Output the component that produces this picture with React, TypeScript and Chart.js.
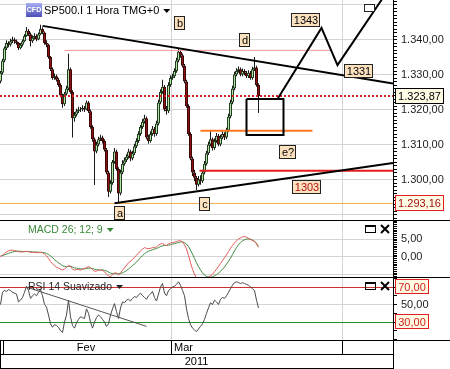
import React, { useEffect, useRef } from 'react';
import { Chart, registerables } from 'chart.js';

Chart.register(...registerables);

const FONT = '"Liberation Sans", Arial, Helvetica, sans-serif';
const GRID = '#d4d4d4';

const title = 'SP500.I 1 Hora TMG+0';
const macdTitle = 'MACD 26; 12; 9';
const rsiTitle = 'RSI 14 Suavizado';

// hourly candles, bar index 0..129
const opens = [
  1328, 1330.5, 1334, 1337.5, 1339, 1338.5, 1339.5, 1340, 1339.5, 1339,
  1337.5, 1338.5, 1339.5, 1341, 1342.5, 1341.5, 1339.5, 1340.5, 1341, 1340,
  1341.5, 1343, 1342, 1339, 1338.5, 1335, 1331.5, 1329, 1329.5, 1328.5,
  1327, 1324, 1321.5, 1324.5, 1326, 1331.5, 1325, 1317.5, 1318.5, 1319.5,
  1320, 1320, 1320.5, 1320, 1322, 1319.5, 1315, 1311.5, 1308, 1310,
  1311.5, 1312, 1311, 1308.5, 1302, 1296.5, 1299, 1305, 1308, 1303,
  1296, 1302, 1304.5, 1305.5, 1306.5, 1308, 1306, 1307.5, 1309.5, 1311,
  1313, 1315, 1316.5, 1317.5, 1312, 1311, 1313, 1314.5, 1313, 1316,
  1322, 1325, 1326.5, 1320, 1319.5, 1327, 1329, 1329.5, 1331, 1334,
  1336.5, 1335.5, 1332.5, 1328, 1321, 1313, 1306, 1302, 1300.5, 1298.5,
  1300, 1299.5, 1302, 1304.5, 1307.5, 1310, 1311.5, 1309, 1311, 1312.5,
  1310, 1312, 1313, 1312, 1314, 1318, 1322, 1326, 1330, 1331,
  1331.5, 1330, 1331, 1330.5, 1329.5, 1330.5, 1329, 1331.5, 1332, 1327,
];
const highs = [
  1331, 1334.5, 1338, 1339.8, 1339.5, 1340.2, 1340.8, 1340.5, 1340, 1339.3,
  1339, 1340, 1341.5, 1343.6, 1343, 1342, 1341.2, 1341.8, 1341.5, 1342,
  1344.2, 1343.5, 1342.3, 1339.8, 1338.8, 1335.3, 1332, 1330.3, 1330, 1329,
  1327.5, 1324.5, 1325, 1326.8, 1335.9, 1332, 1325.5, 1319.3, 1320.2, 1320.8,
  1320.7, 1321.2, 1321, 1322.6, 1322.4, 1320, 1315.5, 1312, 1310.8, 1312.2,
  1312.8, 1312.5, 1311.5, 1309, 1302.5, 1299.8, 1305.6, 1309, 1308.5, 1303.5,
  1302.8, 1305.5, 1306.3, 1307.2, 1308.8, 1308.5, 1308.2, 1310.2, 1311.8, 1313.8,
  1315.6, 1317.3, 1318.5, 1318, 1312.8, 1313.8, 1315.3, 1315, 1316.8, 1322.8,
  1325.8, 1328.5, 1327, 1321, 1327.8, 1329.8, 1330.2, 1331.8, 1334.8, 1337.5,
  1337, 1336, 1333, 1328.5, 1321.5, 1313.5, 1306.5, 1302.8, 1301, 1301,
  1301.2, 1302.8, 1305.3, 1308.2, 1310.8, 1314, 1312, 1311.8, 1313.3, 1313,
  1312.8, 1313.8, 1313.5, 1314.8, 1318.8, 1322.8, 1326.8, 1330.8, 1331.8, 1332.3,
  1332, 1331.7, 1331.5, 1331, 1331.2, 1331, 1332.2, 1335, 1332.5, 1327.5,
];
const lows = [
  1327.5, 1330, 1333.5, 1337, 1337.8, 1338, 1339, 1338.8, 1338.5, 1337,
  1337.2, 1338, 1339.2, 1340.8, 1341, 1338, 1339, 1340, 1339.5, 1339.8,
  1341.2, 1341.5, 1338.5, 1337.8, 1334.5, 1331, 1328.5, 1328.5, 1328, 1326.5,
  1323.5, 1320.5, 1321, 1324, 1325.5, 1324.5, 1312, 1316.5, 1318, 1319,
  1319.3, 1319.5, 1319.3, 1319.8, 1319, 1314.5, 1310.8, 1298.4, 1307.5, 1309.5,
  1311, 1310.3, 1308, 1301.5, 1295, 1296, 1298.5, 1304.5, 1302.5, 1293.5,
  1295.5, 1301.5, 1304, 1305, 1306, 1305.2, 1305.5, 1307, 1309, 1310.5,
  1312.5, 1314.5, 1316, 1311.5, 1310.2, 1310.5, 1312.5, 1312.2, 1312.5, 1315.5,
  1321.5, 1324.5, 1319.5, 1318.5, 1319, 1326.5, 1328.5, 1329, 1330.5, 1333.5,
  1334.8, 1332, 1327.5, 1320.5, 1312.5, 1305.5, 1301, 1299.5, 1297, 1298,
  1298.5, 1299, 1301.5, 1304, 1307, 1309.5, 1308.3, 1308.5, 1310.5, 1309.5,
  1309.5, 1311.5, 1311.3, 1311.5, 1313.5, 1317.5, 1321.5, 1325.5, 1329.5, 1330.5,
  1329.5, 1329.5, 1329.8, 1329, 1329, 1328.5, 1328.5, 1331, 1326.5, 1319,
];
const closes = [
  1330.5, 1334, 1337.5, 1339, 1338.5, 1339.5, 1340, 1339.5, 1339, 1337.5,
  1338.5, 1339.5, 1341, 1342.5, 1341.5, 1339.5, 1340.5, 1341, 1340, 1341.5,
  1343, 1342, 1339, 1338.5, 1335, 1331.5, 1329, 1329.5, 1328.5, 1327,
  1324, 1321.5, 1324.5, 1326, 1331.5, 1325, 1317.5, 1318.5, 1319.5, 1320,
  1320, 1320.5, 1320, 1322, 1319.5, 1315, 1311.5, 1308, 1310, 1311.5,
  1312, 1311, 1308.5, 1302, 1296.5, 1299, 1305, 1308, 1303, 1296,
  1302, 1304.5, 1305.5, 1306.5, 1308, 1306, 1307.5, 1309.5, 1311, 1313,
  1315, 1316.5, 1317.5, 1312, 1311, 1313, 1314.5, 1313, 1316, 1322,
  1325, 1326.5, 1320, 1319.5, 1327, 1329, 1329.5, 1331, 1334, 1336.5,
  1335.5, 1332.5, 1328, 1321, 1313, 1306, 1302, 1300.5, 1298.5, 1300,
  1299.5, 1302, 1304.5, 1307.5, 1310, 1311.5, 1309, 1311, 1312.5, 1310,
  1312, 1313, 1312, 1314, 1318, 1322, 1326, 1330, 1331, 1331.5,
  1330, 1331, 1330.5, 1329.5, 1330.5, 1329, 1331.5, 1332, 1327, 1323.87,
];

const macdLine = [
  0.1, 0.5, 1.0, 1.4, 1.7, 1.9, 1.9, 1.8, 1.7, 1.5,
  1.4, 1.4, 1.5, 1.6, 1.5, 1.3, 1.3, 1.3, 1.2, 1.2,
  1.3, 1.2, 0.8, 0.3, -0.4, -1.2, -1.9, -2.4, -2.8, -3.1,
  -3.4, -3.6, -3.3, -2.9, -2.3, -2.6, -3.4, -3.6, -3.5, -3.5,
  -3.6, -3.4, -3.2, -2.9, -2.7, -3.0, -3.5, -4.0, -3.9, -3.7,
  -3.6, -3.7, -4.1, -4.7, -5.3, -5.4, -5.0, -4.4, -4.5, -5.0,
  -4.4, -3.7, -3.0, -2.3, -1.6, -1.2, -0.7, -0.1, 0.5, 1.1,
  1.7, 2.2, 2.6, 2.4, 2.3, 2.4, 2.6, 2.6, 2.8, 3.3,
  3.6, 3.8, 3.4, 3.2, 3.6, 3.9, 4.0, 4.1, 4.3, 4.5,
  4.5, 4.2, 3.4, 2.2, 0.4, -1.6, -3.4, -4.8, -5.9, -6.6,
  -7.2, -7.1, -6.7, -6.1, -5.6, -5.2, -4.8, -4.1, -3.4, -2.6,
  -1.8, -1.0, -0.2, 0.6, 1.5, 2.4, 3.2, 3.9, 4.5, 5.0,
  5.3, 5.6, 5.7, 5.5, 5.2, 4.9, 4.6, 4.3, 3.6, 2.7,
];
const signalLine = [
  0.3, 0.4, 0.6, 0.8, 1.0, 1.2, 1.4, 1.5, 1.6, 1.6,
  1.6, 1.5, 1.5, 1.5, 1.5, 1.5, 1.4, 1.4, 1.4, 1.3,
  1.3, 1.3, 1.2, 1.0, 0.7, 0.3, -0.2, -0.7, -1.2, -1.6,
  -2.0, -2.4, -2.6, -2.7, -2.6, -2.6, -2.8, -3.0, -3.1, -3.2,
  -3.3, -3.3, -3.3, -3.2, -3.1, -3.1, -3.2, -3.4, -3.5, -3.6,
  -3.6, -3.6, -3.7, -3.9, -4.2, -4.5, -4.6, -4.6, -4.6, -4.7,
  -4.6, -4.4, -4.1, -3.8, -3.3, -2.9, -2.4, -1.9, -1.4, -0.8,
  -0.2, 0.4, 0.9, 1.3, 1.6, 1.8, 2.0, 2.2, 2.4, 2.6,
  2.9, 3.1, 3.2, 3.2, 3.3, 3.4, 3.6, 3.7, 3.9, 4.0,
  4.2, 4.2, 4.0, 3.6, 2.9, 1.9, 0.8, -0.4, -1.6, -2.7,
  -3.6, -4.4, -5.0, -5.4, -5.6, -5.6, -5.5, -5.2, -4.9, -4.5,
  -4.0, -3.4, -2.8, -2.0, -1.2, -0.3, 0.7, 1.7, 2.6, 3.4,
  4.0, 4.5, 4.8, 5.0, 5.0, 4.9, 4.7, 4.4, 3.8, 2.9,
];
const rsiLine = [
  50, 64, 66, 65, 67, 66, 64, 63, 62, 53,
  55, 58, 64, 71, 66, 57, 60, 62, 60, 64,
  67, 60, 50, 47, 38, 28, 24, 27, 26, 24,
  20, 18, 30, 38, 55, 36, 26, 23, 29, 33,
  36, 35, 34, 45, 40, 30, 23, 30, 35, 38,
  36, 33, 30, 25, 28, 38, 45, 51, 42, 34,
  46, 53, 52, 55, 56, 54, 57, 59, 58, 61,
  63, 60, 58, 56, 60, 62, 65, 58, 54, 62,
  70, 74, 63, 60, 66, 68, 70, 71, 73, 76,
  72, 66, 60, 45, 34, 27, 23, 21, 19, 22,
  25, 28, 33, 40, 46, 52, 50, 55, 53, 50,
  56, 58, 57, 60, 64, 68, 72, 75, 76, 75,
  74, 75, 74, 73, 72, 70, 68, 66, 55, 46,
];

const lastPrice = 1323.87;
const markPrice = 1293.16;
const rsiUpper = 70;
const rsiMid = 50;
const rsiLower = 30;

const xRange = [-0.25, 196.25];
const priceRange = [1288.43, 1351.29];
const macdRange = [-5.56, 10.28];
const rsiRange = [9.43, 81.43];

const monthTicks = [1.25, 85.25, 170.75];
const monthNames = ['Fev', 'Mar'];
const monthNameAt = [42.75, 86.75];
const yearName = '2011';

// drawn studies: [bar index, price]
const resistance = [[21, 1343.9], [196.25, 1327.4]];
const support = [[57, 1293.2], [196.25, 1304.7]];
const levelPink = [[32, 1336.9], [165.5, 1336.9]];
const levelLast = [[-0.25, lastPrice], [196.25, lastPrice]];
const levelOrange = [[100, 1313.9], [156, 1313.9]];
const levelRed = [[99.5, 1302.5], [196.25, 1302.5]];
const levelGold = [[-0.25, markPrice], [196.25, markPrice]];
const targetBox = [[123, 1323], [141.5, 1323], [141.5, 1312.7], [123, 1312.7], [123, 1323]];
const forecast = [[138.5, 1323], [160.5, 1343.3], [168.5, 1332.7], [190.5, 1351.3], [197, 1356.5]];
const rsiTrend = [[13.5, 69.5], [73, 25]];

const noteText = ['a', 'b', 'c', 'd', 'e?', '1343', '1331', '1303', ''];
const noteX = [59.5, 89.5, 102.25, 122, 143.5, 152.5, 179, 153, 184.5];
const noteY = [1290.4, 1344.6, 1293.0, 1339.9, 1307.9, 1345.7, 1331.1, 1297.9, 1348.9];
const noteColor = ['#000', '#000', '#000', '#000', '#000', '#000', '#000', '#b01010', '#000'];

function fmt(v: number) {
  const [i, d] = Math.abs(v).toFixed(2).split('.');
  return (v < 0 ? '-' : '') + i.replace(/\B(?=(\d{3})+(?!\d))/g, '.') + ',' + d;
}

const pts = (arr: number[][]) => arr.map(([x, y]) => ({ x, y }));
const seq = (arr: number[]) => arr.map((y, i) => ({ x: i, y }));

const lineSet = (data: any[], color: string, width: number, axis = 'yP', dash: number[] = []) => ({
  type: 'line',
  data,
  yAxisID: axis,
  borderColor: color,
  borderWidth: width,
  borderDash: dash,
  pointRadius: 0,
  fill: false,
  tension: 0,
});

const isMult = (v: number, m: number) => Math.abs(v / m - Math.round(v / m)) < 1e-6;

function tri(ctx: any, x: number, y: number, color: string) {
  ctx.fillStyle = color;
  ctx.beginPath();
  ctx.moveTo(x, y - 2);
  ctx.lineTo(x + 7, y - 2);
  ctx.lineTo(x + 3.5, y + 2);
  ctx.closePath();
  ctx.fill();
}

function winIcons(ctx: any, right: number, top: number) {
  ctx.strokeStyle = '#000';
  ctx.fillStyle = '#000';
  ctx.lineWidth = 1;
  ctx.strokeRect(right - 27.5, top + 5.5, 10, 7);
  ctx.fillRect(right - 28, top + 5, 11, 2);
  ctx.lineWidth = 2;
  ctx.beginPath();
  ctx.moveTo(right - 12, top + 5);
  ctx.lineTo(right - 4, top + 13);
  ctx.moveTo(right - 4, top + 5);
  ctx.lineTo(right - 12, top + 13);
  ctx.stroke();
}

const decor = {
  id: 'decor',
  beforeDatasetDraw(chart: any, args: any) {
    const ys = args.meta.yScale;
    const a = chart.chartArea;
    const ctx = chart.ctx;
    ctx.save();
    ctx.beginPath();
    ctx.rect(a.left, ys.top, a.right - a.left, ys.bottom - ys.top);
    ctx.clip();
  },
  afterDatasetDraw(chart: any) {
    chart.ctx.restore();
  },
  afterDatasetsDraw(chart: any) {
    const { ctx, chartArea: a, scales } = chart;
    const xs = scales.x, yP = scales.yP, yM = scales.yM, yR = scales.yR;
    // notes
    ctx.save();
    ctx.beginPath();
    ctx.rect(a.left, yP.top, a.right - a.left, yP.bottom - yP.top);
    ctx.clip();
    ctx.font = `11px ${FONT}`;
    ctx.textAlign = 'center';
    ctx.textBaseline = 'middle';
    noteText.forEach((t, i) => {
      const px = Math.round(xs.getPixelForValue(noteX[i]));
      const py = Math.round(yP.getPixelForValue(noteY[i]));
      const w = t ? Math.round(ctx.measureText(t).width) + 5 : 11;
      const h = t ? 14 : 8;
      const l = px - Math.round(w / 2);
      const tp = py - Math.round(h / 2);
      ctx.fillStyle = t ? '#fde2c0' : '#fff';
      ctx.fillRect(l, tp, w, h);
      ctx.strokeStyle = '#222';
      ctx.lineWidth = 1;
      ctx.strokeRect(l + 0.5, tp + 0.5, w - 1, h - 1);
      ctx.fillStyle = noteColor[i];
      ctx.fillText(t, px, py + 1);
    });
    ctx.restore();

    ctx.save();
    // CFD icon + title
    const ix = a.left + 26, iy = a.top + 3;
    const g = ctx.createLinearGradient(ix, iy, ix, iy + 14);
    g.addColorStop(0, '#a8aef2');
    g.addColorStop(1, '#4d4fb8');
    ctx.fillStyle = g;
    ctx.fillRect(ix, iy, 16, 14);
    ctx.fillStyle = '#fff';
    ctx.font = `bold 7px ${FONT}`;
    ctx.textAlign = 'center';
    ctx.textBaseline = 'middle';
    ctx.fillText('CFD', ix + 8, iy + 7);
    ctx.font = `11px ${FONT}`;
    ctx.textAlign = 'left';
    ctx.fillStyle = '#000';
    ctx.fillText(title, a.left + 44, a.top + 11);
    tri(ctx, a.left + 44 + ctx.measureText(title).width + 4, a.top + 11, '#000');

    ctx.font = `10.5px ${FONT}`;
    ctx.fillStyle = '#3a8a3a';
    ctx.fillText(macdTitle, a.left + 28, yM.top + 10);
    tri(ctx, a.left + 28 + ctx.measureText(macdTitle).width + 4, yM.top + 10, '#3a8a3a');
    ctx.fillStyle = '#222';
    ctx.fillText(rsiTitle, a.left + 28, yR.top + 10);
    tri(ctx, a.left + 28 + ctx.measureText(rsiTitle).width + 4, yR.top + 10, '#222');

    winIcons(ctx, a.right, yM.top);
    winIcons(ctx, a.right, yR.top);
    ctx.restore();
  },
  afterDraw(chart: any) {
    const { ctx, chartArea: a, scales, width } = chart;
    const xs = scales.x, yP = scales.yP, yM = scales.yM, yR = scales.yR;
    ctx.save();
    ctx.strokeStyle = '#000';
    ctx.lineWidth = 1;
    const hl = (y: number, x0: number, x1: number) => {
      const yy = Math.floor(y) + 0.5;
      ctx.beginPath(); ctx.moveTo(x0, yy); ctx.lineTo(x1, yy); ctx.stroke();
    };
    const vl = (x: number, y0: number, y1: number) => {
      const xx = Math.floor(x) + 0.5;
      ctx.beginPath(); ctx.moveTo(xx, y0); ctx.lineTo(xx, y1); ctx.stroke();
    };
    hl(yM.top, 0, width);
    hl(yR.top, 0, width);
    hl(xs.top, 0, width);
    hl(xs.top + 14, 0, a.right);
    hl(xs.bottom - 1, 0, a.right);
    vl(0, xs.top, xs.bottom);
    vl(a.right, xs.top, xs.bottom);

    ctx.font = `11px ${FONT}`;
    ctx.fillStyle = '#000';
    ctx.textBaseline = 'middle';
    monthNames.forEach((m, i) => {
      ctx.textAlign = i === 0 ? 'center' : 'left';
      ctx.fillText(m, xs.getPixelForValue(monthNameAt[i]), xs.top + 8);
    });
    ctx.textAlign = 'center';
    ctx.fillText(yearName, (a.left + a.right) / 2, xs.top + 22);

    const tags = [
      { s: yP, v: lastPrice, text: fmt(lastPrice), color: '#000', border: '#000', h: 16 },
      { s: yP, v: markPrice, text: fmt(markPrice), color: '#a01010', border: '#e02020', h: 16 },
      { s: yR, v: rsiUpper, text: fmt(rsiUpper), color: '#d02020', border: '#e02020', h: 15 },
      { s: yR, v: rsiLower, text: fmt(rsiLower), color: '#d02020', border: '#e02020', h: 15 },
    ];
    tags.forEach((t) => {
      const py = Math.round(t.s.getPixelForValue(t.v));
      const w = Math.round(ctx.measureText(t.text).width) + 6;
      const l = Math.round(t.s.left) + 2;
      const tp = py - Math.round(t.h / 2);
      ctx.fillStyle = '#fffbe4';
      ctx.fillRect(l, tp, w, t.h);
      ctx.strokeStyle = t.border;
      ctx.strokeRect(l + 0.5, tp + 0.5, w - 1, t.h - 1);
      ctx.fillStyle = t.color;
      ctx.textAlign = 'center';
      ctx.fillText(t.text, l + w / 2, py + 1);
    });
    ctx.restore();
  },
};

const yAxisCommon = (weight: number) => ({
  type: 'linear',
  position: 'right',
  stack: 'panels',
  stackWeight: weight,
  border: { display: true, color: '#000', width: 1 },
  afterFit: (s: any) => {
    s.width = 57;
    s.paddingTop = 0;
    s.paddingBottom = 0;
    s.paddingLeft = 0;
    s.paddingRight = 0;
  },
});

export default function App() {
  const ref = useRef<HTMLCanvasElement>(null);
  useEffect(() => {
    const idx = closes.map((_, i) => i);
    const up = (i: number) => closes[i] >= opens[i];
    const datasets: any[] = [
      lineSet(pts(targetBox), '#000', 2),
      lineSet(pts(forecast), '#000', 2),
      lineSet(pts(resistance), '#000', 2),
      lineSet(pts(support), '#000', 2),
      lineSet(pts(levelLast), '#d42020', 2, 'yP', [2, 2]),
      lineSet(pts(levelOrange), '#ff7a1f', 2),
      lineSet(pts(levelRed), '#e41e1e', 2),
      lineSet(pts(levelPink), '#ec9a9a', 1),
      lineSet(pts(levelGold), '#f0b048', 1),
      lineSet(seq(macdLine), '#e05a5a', 1, 'yM'),
      lineSet(seq(signalLine), '#3f8a3f', 1, 'yM'),
      lineSet(pts(rsiTrend), '#555', 1, 'yR'),
      lineSet(seq(rsiLine), '#4a4a4a', 1, 'yR'),
      {
        type: 'bar',
        data: idx.map((i) => ({ x: i, y: [opens[i], closes[i]] })),
        yAxisID: 'yP',
        grouped: false,
        barThickness: 3,
        borderWidth: 1,
        borderSkipped: false,
        inflateAmount: 0,
        backgroundColor: (c: any) => (up(c.dataIndex) ? '#b6e2a8' : '#8e1212'),
        borderColor: (c: any) => (up(c.dataIndex) ? '#1d3d1d' : '#3a0606'),
      },
      {
        type: 'bar',
        data: idx.map((i) => ({ x: i, y: [lows[i], highs[i]] })),
        yAxisID: 'yP',
        grouped: false,
        barThickness: 1,
        borderWidth: 0,
        inflateAmount: 0,
        backgroundColor: '#1a1a1a',
      },
    ];

    const chart = new Chart(ref.current as HTMLCanvasElement, {
      type: 'bar',
      data: { datasets },
      plugins: [decor],
      options: {
        responsive: false,
        animation: false,
        events: [],
        layout: { padding: 0 },
        plugins: { legend: { display: false }, tooltip: { enabled: false } },
        scales: {
          x: {
            type: 'linear',
            position: 'bottom',
            min: xRange[0],
            max: xRange[1],
            offset: false,
            grid: {
              offset: false,
              color: (c: any) => (c.tick && c.tick.value === monthTicks[0] ? 'rgba(0,0,0,0)' : GRID),
              tickColor: '#000',
              tickLength: 14,
              drawTicks: true,
              lineWidth: 1,
            },
            border: { display: false },
            ticks: { display: false },
            afterBuildTicks: (s: any) => {
              s.ticks = monthTicks.map((v) => ({ value: v }));
            },
            afterFit: (s: any) => {
              s.height = 29;
              s.paddingLeft = 0;
              s.paddingRight = 0;
              s.paddingTop = 0;
              s.paddingBottom = 0;
            },
          },
          yP: {
            ...yAxisCommon(220),
            min: priceRange[0],
            max: priceRange[1],
            grid: {
              color: (c: any) => (c.tick && isMult(c.tick.value, 10) ? GRID : 'rgba(0,0,0,0)'),
              tickColor: '#000',
              tickLength: 4,
              lineWidth: 1,
            },
            ticks: {
              stepSize: 1,
              autoSkip: false,
              includeBounds: false,
              padding: 4,
              color: '#222',
              font: { family: FONT, size: 11 },
              callback: (v: any) => (isMult(v, 10) && v >= 1300 && v <= 1340 ? fmt(v) : ''),
            },
          },
          yM: {
            ...yAxisCommon(57),
            min: macdRange[0],
            max: macdRange[1],
            grid: {
              color: (c: any) => (c.tick && (isMult(c.tick.value, 5) && Math.abs(c.tick.value) < 6) ? GRID : 'rgba(0,0,0,0)'),
              tickColor: '#000',
              tickLength: 4,
              lineWidth: 1,
            },
            ticks: {
              stepSize: 0.5,
              autoSkip: false,
              includeBounds: false,
              padding: 4,
              color: '#222',
              font: { family: FONT, size: 11 },
              callback: (v: any) => (v === 0 || v === 5 ? fmt(v) : ''),
            },
          },
          yR: {
            ...yAxisCommon(63),
            min: rsiRange[0],
            max: rsiRange[1],
            grid: {
              color: (c: any) => {
                const v = c.tick ? c.tick.value : NaN;
                if (v === rsiUpper) return '#c83232';
                if (v === rsiLower) return '#2e8b2e';
                if (v === rsiMid) return GRID;
                return 'rgba(0,0,0,0)';
              },
              tickColor: '#000',
              tickLength: 4,
              lineWidth: 1,
            },
            ticks: {
              stepSize: 10,
              autoSkip: false,
              includeBounds: false,
              padding: 4,
              color: '#222',
              font: { family: FONT, size: 11 },
              callback: (v: any) => (v === rsiMid ? fmt(v) : ''),
            },
          },
        },
      } as any,
    } as any);
    return () => chart.destroy();
  }, []);

  return (
    <div style={{ position: 'fixed', left: 0, top: 0, width: 450, height: 369, background: '#fff' }}>
      <canvas ref={ref} width={450} height={369} style={{ display: 'block' }} />
    </div>
  );
}
